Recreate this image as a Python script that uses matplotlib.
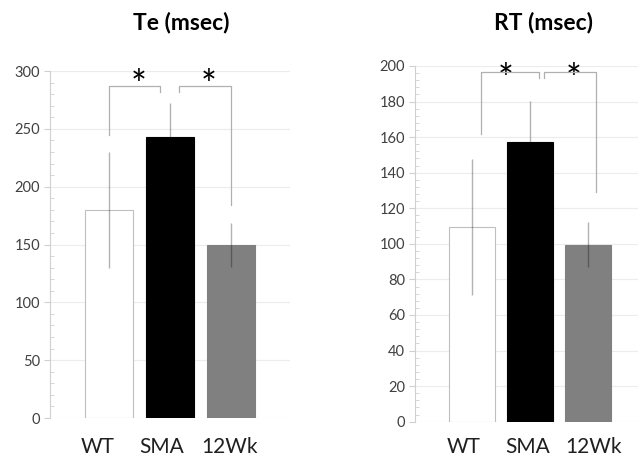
import numpy as np
import matplotlib.pyplot as plt
import matplotlib.transforms as mtransforms
from matplotlib.ticker import MultipleLocator

plt.rcParams['font.family'] = ['Lato', 'DejaVu Sans']

groups = ["WT", "SMA", "12Wk"]
barColors = ["white", "black", "#808080"]
edgeColors = ["#bfbfbf", "black", "#808080"]

# Te panel
teMean = [180, 243, 150]
teErr = [50, 29, 19]
# RT panel
rtMean = [109.5, 157.5, 99.5]
rtErr = [38, 23, 12.5]

# significance brackets: (x left, x right, top, left leg bottom, right leg bottom)
teBrackets = [(0.0, 0.84, 287, 245, 281.5), (1.15, 2.0, 287, 281.5, 184)]
rtBrackets = [(0.155, 1.155, 196.7, 161.5, 193), (1.235, 2.13, 196.7, 193, 129)]
teStars = [(0.49, 286), (1.64, 286)]
rtStars = [(0.586, 191.5), (1.75, 191.5)]

# category labels sit a little off the bar centres in the original
teLabelShift = [-0.18, -0.13, -0.03]
rtLabelShift = [-0.15, -0.04, 0.09]


def drawPanel(ax, mean, err, brackets, stars, labelShift, title, titleX,
              ymax, major, minor, xlim):
    x = np.arange(len(groups))
    ax.bar(x, mean, width=0.8, color=barColors, edgecolor=edgeColors,
           linewidth=0.8, zorder=2)
    # translucent dark line: light over white, dark over grey, gone over black
    eb = ax.errorbar(x, mean, yerr=err, fmt='none', ecolor='black',
                     elinewidth=1.0, capsize=0, zorder=3)
    for c in eb[2]:
        c.set_alpha(0.3)

    for (xl, xr, top, lb, rb) in brackets:
        ax.plot([xl, xl, xr, xr], [lb, top, top, rb], color='#b0b0b0',
                lw=0.9, zorder=4, clip_on=False)
    for (sx, sy) in stars:
        ax.text(sx, sy, "*", ha='center', va='center', fontsize=27,
                color='black', clip_on=False)

    ax.set_ylim(0, ymax)
    ax.set_xlim(*xlim)
    ax.yaxis.set_major_locator(MultipleLocator(major))
    ax.yaxis.set_minor_locator(MultipleLocator(minor))
    ax.grid(axis='y', color='#ececec', lw=0.8, zorder=0)
    ax.set_axisbelow(True)

    for s in ['top', 'right', 'bottom']:
        ax.spines[s].set_visible(False)
    ax.spines['left'].set_color('#d0d0d0')
    ax.tick_params(axis='y', which='major', length=4, color='#d0d0d0',
                   labelsize=10.5, labelcolor='#404040', pad=3)
    ax.tick_params(axis='y', which='minor', direction='in', length=3,
                   color='#d0d0d0')
    ax.set_xticks([])

    trans = mtransforms.blended_transform_factory(ax.transData, fig.transFigure)
    for i, name in enumerate(groups):
        ax.text(x[i] + labelShift[i], 1 - 453 / 458, name,
                transform=trans, ha='center', va='baseline', fontsize=15,
                color='#202020')

    fig.text(titleX, 1 - 22.5 / 458, title, ha='center', va='center',
             fontsize=16.5, fontweight='bold')


fig = plt.figure(figsize=(6.39, 4.58), dpi=100)
ax1 = fig.add_axes([0.0782, 0.0873, 0.3756, 0.7576])
ax2 = fig.add_axes([0.6495, 0.0793, 0.3490, 0.7767])

drawPanel(ax1, teMean, teErr, teBrackets, teStars, teLabelShift, "Te (msec)",
          181 / 639, 300, 50, 10, (-0.97, 2.97))
drawPanel(ax2, rtMean, rtErr, rtBrackets, rtStars, rtLabelShift, "RT (msec)",
          544 / 639, 200, 20, 4, (-0.98, 2.86))

fig.savefig("out.png", dpi=100)
